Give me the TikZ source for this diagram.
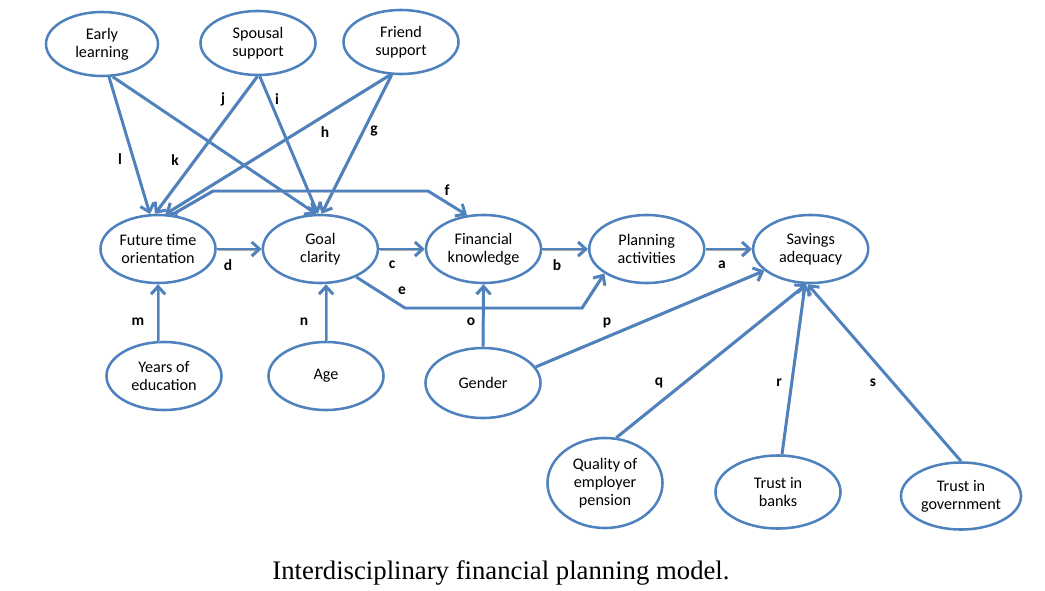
\documentclass[tikz,border=0pt]{standalone}
\usepackage{fontspec}
\setmainfont{Liberation Serif}
\newfontfamily\calibri{Carlito}
\usetikzlibrary{arrows.meta,positioning,shapes.geometric}
\definecolor{ofblue}{RGB}{79,129,189}
\tikzset{
  var/.style={draw=ofblue,line width=1.8pt,ellipse,minimum width=2.875cm,minimum height=1.7cm,inner sep=0pt,align=center,
    font=\calibri\fontsize{11.5}{13}\selectfont},
  arr/.style={-{Straight Barb[length=5.5pt,width=10pt]},ofblue,line width=2.1pt,
    preaction={draw=gray!65,transform canvas={shift={(0.7pt,-0.7pt)}}}},
  lbl/.style={text=black,font=\calibri\bfseries\fontsize{11}{13}\selectfont,inner sep=1pt},
  captxt/.style={font=\fontsize{19}{22}\selectfont}
}
\begin{document}
\begin{tikzpicture}[x=0.025cm,y=-0.025cm]
  \useasboundingbox (0,0) rectangle (1045,591);
  % main chain
  \node[var] (fto) at (158,249) {Future time\\orientation};
  \node[var, right=1.12cm of fto] (goal) {Goal\\clarity};
  \node[var, right=1.14cm of goal] (fk) {Financial\\knowledge};
  \node[var, right=1.14cm of fk] (plan) {Planning\\activities};
  \node[var, right=1.16cm of plan] (sav) {Savings\\adequacy};
  % top row
  \node[var,minimum width=2.8cm,minimum height=1.6cm] (early) at (102,44) {Early\\learning};
  \node[var,minimum height=1.6cm] (spousal) at (258,43) {Spousal\\support};
  \node[var,minimum height=1.6cm] (friend) at (401,42) {Friend\\support};
  % bottom rows
  \node[var] (years) at (164,376) {Years of\\education};
  \node[var] (age) at (326,376) {Age};
  \node[var,minimum height=1.75cm] (gender) at (483,383) {Gender};
  \node[var,minimum height=2.25cm] (quality) at (605,483) {Quality of\\employer\\pension};
  \node[var,minimum width=3.125cm,minimum height=1.825cm] (banks) at (778,492) {Trust in\\banks};
  \node[var,minimum width=3cm,minimum height=1.675cm] (gov) at (961,496) {Trust in\\government};
  \node[captxt] (caption) at (501,573) {Interdisciplinary financial planning model.};

  \coordinate (fbend1) at (213,191);
  \coordinate (fbend2) at (428,191);
  \coordinate (ebend1) at (405,308);
  \coordinate (ebend2) at (582,308);

  \draw[arr] (early.-78) -- (fto.103) node[lbl] at (120,159) {l};
  \draw[arr] (early.-72) -- (goal.97) node[lbl] at (175,160) {k};
  \draw[arr] (spousal.-91) -- (fto.95) node[lbl] at (223,99) {j};
  \draw[arr] (spousal.-87) -- (goal.94) node[lbl] at (277,99) {i};
  \draw[arr] (friend.-108) -- (fto.78) node[lbl] at (325,132) {h};
  \draw[arr] (friend.-106) -- (goal.88) node[lbl] at (374,131) {g};
  \draw[arr] (fto.68) -- (fbend1) -- (fbend2) -- (fk.116) node[lbl] at (447,190) {f};
  \draw[arr] (fto.east) -- (goal.west) node[lbl] at (228,265) {d};
  \draw[arr] (goal.east) -- (fk.west) node[lbl] at (392,265) {c};
  \draw[arr] (fk.east) -- (plan.west) node[lbl] at (557,265) {b};
  \draw[arr] (plan.east) -- (sav.west) node[lbl] at (722,265) {a};
  \draw[arr] (goal.-38) -- (ebend1) -- (ebend2) -- (plan.-150) node[lbl] at (402,291) {e};
  \draw[arr] (years.north -| fto) -- (fto.south) node[lbl] at (138,322) {m};
  \draw[arr] (age.north) -- (age.north |- goal.south) node[lbl] at (304,322) {n};
  \draw[arr] (gender.north) -- (fk.south) node[lbl] at (471,322) {o};
  \draw[arr] (gender.17) -- (sav.-155) node[lbl] at (607,323) {p};
  \draw[arr] (quality.76) -- (sav.-97) node[lbl] at (659,383) {q};
  \draw[arr] (banks.84) -- (sav.-99) node[lbl] at (779,383) {r};
  \draw[arr] (gov.north) -- (sav.-95) node[lbl] at (873,383) {s};
\end{tikzpicture}
\end{document}
